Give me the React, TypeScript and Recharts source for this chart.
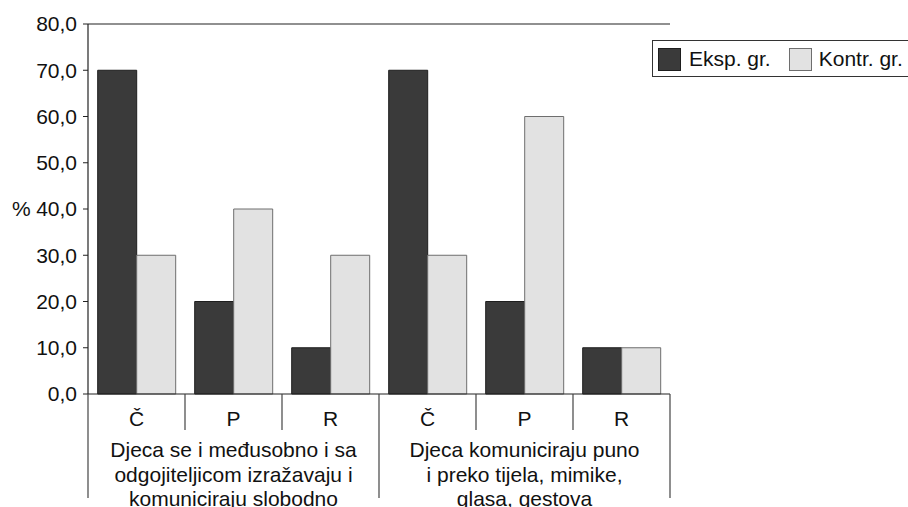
import React from 'react';
import { BarChart, Bar, XAxis, YAxis, ReferenceLine } from 'recharts';

// categories along the x axis (two groups of three)
const categories = ['Č', 'P', 'R', 'Č', 'P', 'R'];
const groupOf = [0, 0, 0, 1, 1, 1];
const groupLines = [
  ['Djeca se i međusobno i sa', 'odgojiteljicom izražavaju i', 'komuniciraju slobodno'],
  ['Djeca komuniciraju puno', 'i preko tijela, mimike,', 'glasa, gestova'],
];

// series values (%)
const eksp = [70, 20, 10, 70, 20, 10];
const kontr = [30, 40, 30, 30, 60, 10];

const yTicks = [0, 10, 20, 30, 40, 50, 60, 70, 80];

const FONT = '"Liberation Sans", Arial, sans-serif';
const FS = 21;
const LINE = '#222';
const SEP = '#444';

const data = categories.map((c, i) => ({
  key: `c${i}`,
  cat: c,
  group: `g${groupOf[i]}`,
  eksp: eksp[i],
  kontr: kontr[i],
}));

const CatTick = (props: any) => {
  const { x, y, payload } = props;
  const idx = data.findIndex(d => d.key === payload.value);
  const half = payload.offset || 48.5;
  const left = x - half;
  const right = x + half;
  const groupStart = idx % 3 === 0;
  return (
    <g>
      <line x1={left} y1={y} x2={left} y2={groupStart ? y + 104 : y + 36} stroke={SEP} strokeWidth={1.2} />
      {idx === categories.length - 1 && (
        <line x1={right} y1={y} x2={right} y2={y + 104} stroke={SEP} strokeWidth={1.2} />
      )}
      <text x={x} y={y + 32} textAnchor="middle" fontSize={FS} fontFamily={FONT} fill="#111">
        {categories[idx]}
      </text>
    </g>
  );
};

const GroupTick = (props: any) => {
  const { x, y, payload } = props;
  const gi = payload.value === 'g0' ? 0 : 1;
  return (
    <text x={x} y={y} textAnchor="middle" fontSize={FS} fontFamily={FONT} fill="#111">
      {groupLines[gi].map((l, i) => (
        <tspan key={i} x={x} y={y + 23 + i * 24.5}>{l}</tspan>
      ))}
    </text>
  );
};

const Swatch = ({ color, border }: { color: string; border: string }) => (
  <span
    style={{
      display: 'inline-block',
      width: 21,
      height: 21,
      background: color,
      border: `1px solid ${border}`,
      verticalAlign: 'middle',
    }}
  />
);

export default function App() {
  return (
    <div
      style={{
        position: 'absolute',
        left: 0,
        top: 0,
        width: 908,
        height: 507,
        overflow: 'hidden',
        background: '#fff',
        fontFamily: FONT,
      }}
    >
      <BarChart
        width={908}
        height={507}
        data={data}
        margin={{ top: 24, right: 238, bottom: 0, left: 0 }}
        barCategoryGap="10%"
        barGap={0}
      >
        <XAxis
          dataKey="key"
          height={40}
          axisLine={{ stroke: LINE, strokeWidth: 1.2 }}
          tickLine={false}
          tickSize={0}
          tickMargin={0}
          tick={<CatTick />}
          interval={0}
        />
        <XAxis
          xAxisId="grp"
          dataKey="group"
          allowDuplicatedCategory={false}
          height={73}
          axisLine={false}
          tickLine={false}
          tickSize={0}
          tickMargin={0}
          tick={<GroupTick />}
          interval={0}
        />
        <YAxis
          width={88}
          domain={[0, 80]}
          ticks={yTicks}
          interval={0}
          tickFormatter={(v: number) => v.toFixed(1).replace('.', ',')}
          tick={{ fill: '#111', fontSize: FS, fontFamily: FONT }}
          tickSize={5}
          tickMargin={6}
          axisLine={{ stroke: LINE, strokeWidth: 1.2 }}
          tickLine={{ stroke: LINE }}
          label={{ value: '%', position: 'insideLeft', offset: 12, fontSize: FS, fill: '#111', fontFamily: FONT }}
        />
        <YAxis
          yAxisId="right"
          orientation="right"
          width={0}
          domain={[0, 80]}
          tick={false}
          tickLine={false}
          axisLine={{ stroke: LINE, strokeWidth: 1.2 }}
        />
        <ReferenceLine y={80} stroke={LINE} strokeWidth={1.2} />
        <Bar dataKey="eksp" name="Eksp. gr." fill="#3a3a3a" stroke="#1e1e1e" strokeWidth={1} isAnimationActive={false} />
        <Bar dataKey="kontr" name="Kontr. gr." fill="#e2e2e2" stroke="#6e6e6e" strokeWidth={1} isAnimationActive={false} />
      </BarChart>
      <div
        style={{
          position: 'absolute',
          left: 652,
          top: 40,
          width: 300,
          height: 35,
          border: '1px solid #333',
          background: '#fff',
          display: 'flex',
          alignItems: 'center',
          fontSize: FS,
          color: '#111',
          boxSizing: 'content-box',
        }}
      >
        <span style={{ marginLeft: 5 }}><Swatch color="#3a3a3a" border="#1e1e1e" /></span>
        <span style={{ marginLeft: 8 }}>Eksp. gr.</span>
        <span style={{ marginLeft: 18 }}><Swatch color="#e2e2e2" border="#6e6e6e" /></span>
        <span style={{ marginLeft: 7 }}>Kontr. gr.</span>
      </div>
    </div>
  );
}
